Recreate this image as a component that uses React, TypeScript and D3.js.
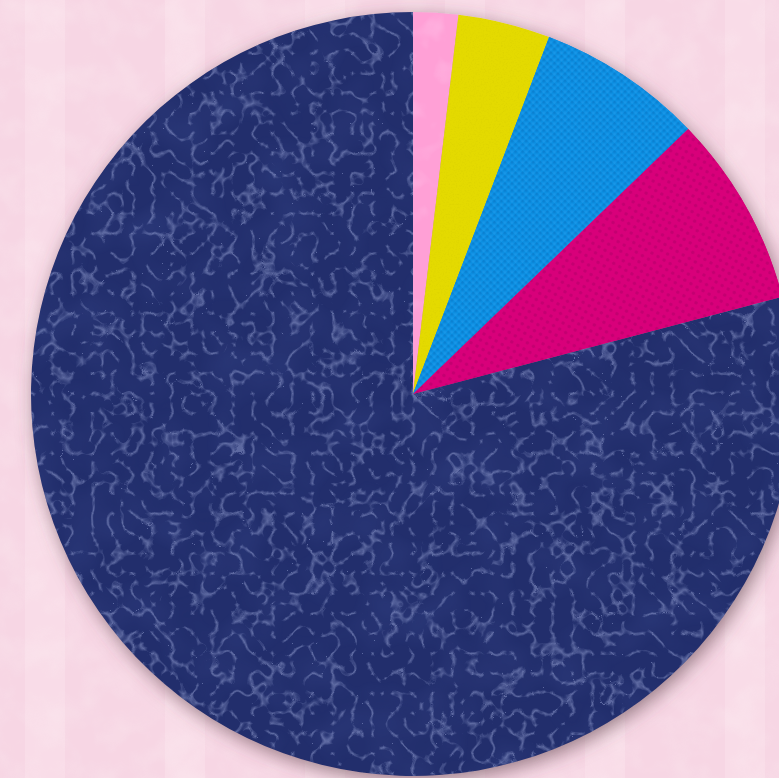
import React from "react";
import * as d3 from "d3";

const categories = ["Pink", "Yellow", "Blue", "Magenta", "Navy"];
const values = [1.9, 3.9, 7.0, 8.1, 79.1];
const colors = ["#ffa0d6", "#e4da00", "#0c8fe2", "#d8007a", "#222f6c"];
const textures = ["watercolor", "paper", "weave", "dots", "leather"];

const W = 779;
const H = 778;

export default function App() {
  const cx = 413;
  const cy = 394;
  const r = 382;
  const pie = d3.pie<number>().sort(null).value((d) => d).startAngle(0).endAngle(2 * Math.PI);
  const arcs = pie(values);
  const arc = d3.arc<d3.PieArcDatum<number>>().innerRadius(0).outerRadius(r);
  const stripes = d3.range(0, W, 140);
  const fr = { x: -420, y: -420, width: 840, height: 840, filterUnits: "userSpaceOnUse" as const };

  return (
    <svg width={W} height={H} style={{ position: "absolute", left: 0, top: 0, display: "block" }}>
      <defs>
        <filter id="bgnoise" x="0" y="0" width="100%" height="100%">
          <feTurbulence type="fractalNoise" baseFrequency="0.03" numOctaves="3" seed="5" />
          <feColorMatrix type="matrix" values="0 0 0 0 1  0 0 0 0 0.97  0 0 0 0 0.95  0.9 0 0 0 -0.35" />
        </filter>
        <filter id="shadow" x="-10%" y="-10%" width="120%" height="120%">
          <feDropShadow dx="3" dy="5" stdDeviation="9" floodColor="#5b4048" floodOpacity="0.6" />
        </filter>
        <filter id="leather" {...fr}>
          <feTurbulence type="turbulence" baseFrequency="0.05" numOctaves="2" seed="3" result="t" />
          <feColorMatrix in="t" type="matrix" values="0 0 0 0 0.5  0 0 0 0 0.57  0 0 0 0 0.9  -6 0 0 0 1.05" result="lines" />
          <feComposite in="lines" in2="SourceGraphic" operator="in" />
        </filter>
        <filter id="mottle" {...fr}>
          <feTurbulence type="fractalNoise" baseFrequency="0.02" numOctaves="2" seed="11" result="t" />
          <feColorMatrix in="t" type="matrix" values="0 0 0 0 0.05  0 0 0 0 0.08  0 0 0 0 0.3  1.5 0 0 0 -0.6" result="b" />
          <feComposite in="b" in2="SourceGraphic" operator="in" />
        </filter>
        <filter id="watercolor" {...fr}>
          <feTurbulence type="fractalNoise" baseFrequency="0.03" numOctaves="3" seed="8" result="t" />
          <feColorMatrix in="t" type="matrix" values="0 0 0 0 1  0 0 0 0 0.6  0 0 0 0 0.85  3 0 0 0 -1.5" result="b" />
          <feComposite in="b" in2="SourceGraphic" operator="in" />
        </filter>
        <filter id="paper" {...fr}>
          <feTurbulence type="fractalNoise" baseFrequency="0.6" numOctaves="2" seed="2" result="t" />
          <feColorMatrix in="t" type="matrix" values="0 0 0 0 0.55  0 0 0 0 0.5  0 0 0 0 0  1.5 0 0 0 -0.7" result="b" />
          <feComposite in="b" in2="SourceGraphic" operator="in" />
        </filter>
        <pattern id="weave" width="5" height="5" patternUnits="userSpaceOnUse" patternTransform="rotate(45)">
          <rect width="5" height="5" fill="#0c8fe2" />
          <rect width="2.5" height="2.5" fill="#0a78c8" opacity="0.6" />
          <rect x="2.5" y="2.5" width="2.5" height="2.5" fill="#2aa0ee" opacity="0.4" />
        </pattern>
        <pattern id="dots" width="7" height="7" patternUnits="userSpaceOnUse" patternTransform="rotate(30)">
          <rect width="7" height="7" fill="#d8007a" />
          <circle cx="3.5" cy="3.5" r="1.8" fill="#b8006a" opacity="0.6" />
        </pattern>
      </defs>

      <rect x={0} y={0} width={W} height={H} fill="#f7d6e4" />
      {stripes.map((x, i) => (
        <rect key={i} x={x + 25} y={0} width={40} height={H} fill="#fbe1eb" opacity={0.5} />
      ))}
      <rect x={0} y={0} width={W} height={H} filter="url(#bgnoise)" opacity={0.45} />

      <g transform={`translate(${cx},${cy})`}>
        <g filter="url(#shadow)">
          {arcs.map((a, i) => (
            <path key={categories[i]} d={arc(a) || ""} fill={colors[i]} />
          ))}
        </g>
        {arcs.map((a, i) => {
          const t = textures[i];
          if (t === "weave" || t === "dots") {
            return <path key={"t" + i} d={arc(a) || ""} fill={`url(#${t})`} />;
          }
          return (
            <g key={"t" + i}>
              {t === "leather" && (
                <path d={arc(a) || ""} fill="#000" filter="url(#mottle)" opacity={0.35} />
              )}
              <path
                d={arc(a) || ""}
                fill="#000"
                filter={`url(#${t})`}
                opacity={t === "leather" ? 0.38 : t === "paper" ? 0.3 : 0.45}
              />
            </g>
          );
        })}
      </g>
    </svg>
  );
}
